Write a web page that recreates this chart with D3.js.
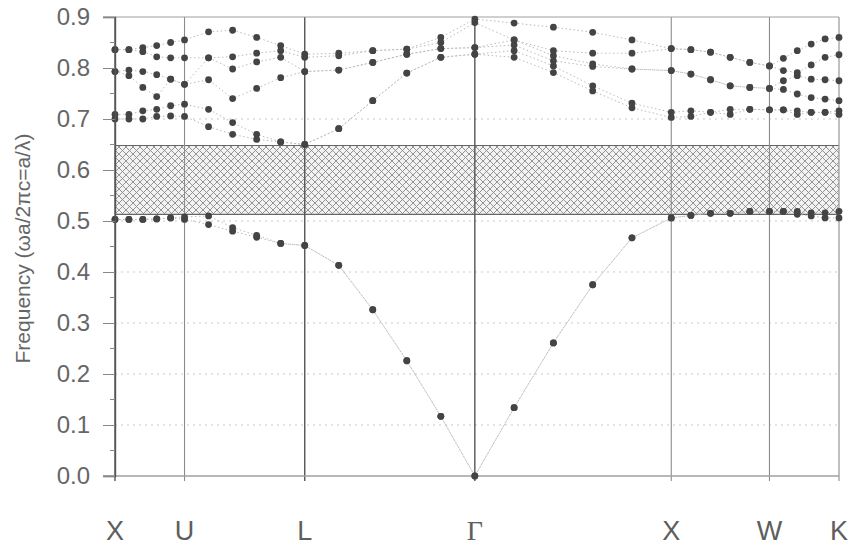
<!DOCTYPE html>
<html>
<head>
<meta charset="utf-8">
<script src="https://cdn.jsdelivr.net/npm/d3@7"></script>
<style>
  body { margin: 0; background: #fff; }
  text { font-family: "Liberation Sans", Arial, sans-serif; }
</style>
</head>
<body>
<div class="canvas"><svg width="855" height="546"></svg></div>
<script>
// high symmetry points and the k-distance of each segment (units of 2pi/a)
var symLabels = ["X", "U", "L", "Γ", "X", "W", "K"];
var segLen = [0.354, 0.612, 0.866, 1.0, 0.5, 0.354];
var segSteps = [0, 0.2, 0.4, 0.6, 0.8, 1];

// complete band gap
var gapLow = 0.513;
var gapHigh = 0.648;

var yTicks = [0.0, 0.1, 0.2, 0.3, 0.4, 0.5, 0.6, 0.7, 0.8, 0.9];
var gridLevels = [0.1, 0.2, 0.3, 0.4, 0.5, 0.7];

// bands, one value per k sample (31 samples)
var band1 = [.503,.503,.503,.504,.506,.503,.493,.480,.468,.456,.452,.413,.326,.226,.117,0,.134,.261,.375,.467,.506,.511,.515,.515,.519,.519,.519,.513,.510,.506,.506];
var band2 = [.503,.503,.503,.504,.506,.508,.510,.487,.472,.456,.452,.413,.326,.226,.117,0,.134,.261,.375,.467,.506,.511,.515,.515,.519,.519,.519,.519,.516,.516,.519];
var band3 = [.700,.700,.700,.705,.706,.705,.685,.670,.660,.655,.650,.681,.736,.790,.821,.827,.821,.791,.755,.722,.703,.705,.713,.709,.719,.718,.718,.709,.713,.713,.709];
var band4 = [.709,.709,.716,.719,.726,.729,.719,.693,.670,.655,.650,.681,.736,.790,.821,.827,.834,.804,.765,.731,.713,.716,.713,.719,.719,.718,.718,.716,.713,.713,.716];
var band5 = [.793,.785,.762,.744,.778,.768,.777,.740,.760,.781,.793,.796,.811,.827,.838,.840,.845,.814,.803,.798,.795,.788,.777,.765,.762,.760,.758,.749,.742,.739,.736];
var band6 = [.793,.796,.793,.787,.778,.768,.820,.798,.812,.821,.793,.796,.811,.827,.838,.840,.855,.824,.808,.798,.795,.788,.777,.765,.762,.760,.775,.785,.778,.777,.775];
var band7 = [.836,.836,.832,.822,.820,.820,.820,.822,.829,.834,.821,.824,.834,.837,.850,.889,.855,.834,.829,.829,.838,.836,.831,.821,.811,.804,.795,.791,.806,.821,.826];
var band8 = [.836,.836,.840,.844,.850,.855,.871,.874,.860,.844,.827,.829,.834,.837,.860,.896,.888,.880,.870,.855,.838,.836,.831,.821,.811,.804,.819,.834,.847,.857,.860];
var bands = [band1, band2, band3, band4, band5, band6, band7, band8];

// cumulative k of the symmetry points and of the samples
var kNodes = [0];
segLen.forEach(function(d, i) { kNodes.push(kNodes[i] + d); });
var kSamples = [];
segLen.forEach(function(d, i) {
  segSteps.forEach(function(s, j) {
    if (i > 0 && j === 0) return;
    kSamples.push(kNodes[i] + s * d);
  });
});

var svg = d3.select(".canvas").select("svg");
var plotLeft = 115, plotRight = 839, plotTop = 17, plotBottom = 476;

var x = d3.scaleLinear().domain([0, kNodes[kNodes.length - 1]]).range([plotLeft, plotRight]);
var y = d3.scaleLinear().domain([0, 0.9]).range([plotBottom, plotTop]);

svg.append("rect").attr("width", 855).attr("height", 546).attr("fill", "#fff");

// cross hatch pattern for the gap
var defs = svg.append("defs");
var pat = defs.append("pattern")
  .attr("id", "hatch")
  .attr("patternUnits", "userSpaceOnUse")
  .attr("width", 7).attr("height", 7);
pat.append("rect").attr("width", 7).attr("height", 7).attr("fill", "#f2f2f2");
pat.append("path").attr("d", "M0,0 L7,7 M7,0 L0,7")
  .attr("stroke", "#8a8a8a").attr("stroke-width", 0.9);

// faint dotted grid lines
svg.append("g").selectAll("line").data(gridLevels).join("line")
  .attr("x1", plotLeft).attr("x2", plotRight)
  .attr("y1", function(d) { return y(d); })
  .attr("y2", function(d) { return y(d); })
  .attr("stroke", "#dcdcdc")
  .attr("stroke-width", 1.5)
  .attr("stroke-dasharray", "2,4");

// the band gap
svg.append("rect")
  .attr("x", x(0)).attr("width", x(kNodes[kNodes.length - 1]) - x(0))
  .attr("y", y(gapHigh)).attr("height", y(gapLow) - y(gapHigh))
  .attr("fill", "url(#hatch)");
svg.append("g").selectAll("line").data([gapLow, gapHigh]).join("line")
  .attr("x1", plotLeft).attr("x2", plotRight)
  .attr("y1", function(d) { return y(d); })
  .attr("y2", function(d) { return y(d); })
  .attr("stroke", "#666").attr("stroke-width", 1.2);

// vertical lines at symmetry points
svg.append("g").selectAll("line").data(kNodes).join("line")
  .attr("x1", function(d) { return x(d); })
  .attr("x2", function(d) { return x(d); })
  .attr("y1", y(0.9)).attr("y2", y(0) + 5)
  .attr("stroke", function(d, i) { return (i === 2 || i === 3 || i === 0) ? "#555" : "#8c8c8c"; })
  .attr("stroke-width", function(d, i) { return (i === 2 || i === 3 || i === 0) ? 1.4 : 1.1; });

// top and bottom frame lines
svg.append("line").attr("x1", plotLeft - 12).attr("x2", plotRight)
  .attr("y1", y(0.9)).attr("y2", y(0.9)).attr("stroke", "#a0a0a0").attr("stroke-width", 1.2);
svg.append("line").attr("x1", plotLeft - 12).attr("x2", plotRight)
  .attr("y1", y(0)).attr("y2", y(0)).attr("stroke", "#a0a0a0").attr("stroke-width", 1.4);

// band lines (dotted)
var line = d3.line()
  .x(function(d, i) { return x(kSamples[i]); })
  .y(function(d) { return y(d); });
svg.append("g").selectAll("path").data(bands).join("path")
  .attr("d", line)
  .attr("fill", "none")
  .attr("stroke", "#bbb")
  .attr("stroke-width", 1)
  .attr("stroke-dasharray", "1.5,2.5");

// points
var pts = [];
bands.forEach(function(b) {
  b.forEach(function(v, i) { pts.push({ k: kSamples[i], f: v }); });
});
svg.append("g").selectAll("circle").data(pts).join("circle")
  .attr("cx", function(d) { return x(d.k); })
  .attr("cy", function(d) { return y(d.f); })
  .attr("r", 3.4)
  .attr("fill", "#444");

// y axis
var yAxis = d3.axisLeft(y).tickValues(yTicks).tickSize(12).tickPadding(13)
  .tickFormat(d3.format(".1f"));
var gy = svg.append("g").attr("transform", "translate(" + plotLeft + ",0)").call(yAxis);
gy.select(".domain").attr("stroke", "#555").attr("stroke-width", 1.4);
gy.selectAll(".tick line").attr("stroke", "#888");
gy.selectAll(".tick text").attr("fill", "#666").style("font-size", "24px");

// minor ticks
var minor = d3.range(0.05, 0.9, 0.1);
svg.append("g").selectAll("line").data(minor).join("line")
  .attr("x1", plotLeft - 5).attr("x2", plotLeft)
  .attr("y1", function(d) { return y(d); })
  .attr("y2", function(d) { return y(d); })
  .attr("stroke", "#888");

// y title
svg.append("text")
  .attr("transform", "translate(30," + (y(0.45) + 2) + ") rotate(-90)")
  .attr("text-anchor", "middle")
  .attr("fill", "#666")
  .style("font-size", "21px")
  .text("Frequency (ωa/2πc=a/λ)");

// x labels
svg.append("g").selectAll("text").data(kNodes).join("text")
  .attr("x", function(d) { return x(d); })
  .attr("y", 540)
  .attr("text-anchor", "middle")
  .attr("fill", "#5e5e5e")
  .style("font-size", function(d, i) { return i === 3 ? "28px" : "27px"; })
  .style("font-family", function(d, i) { return i === 3 ? "'Liberation Serif', serif" : null; })
  .text(function(d, i) { return symLabels[i]; });
</script>
</body>
</html>
